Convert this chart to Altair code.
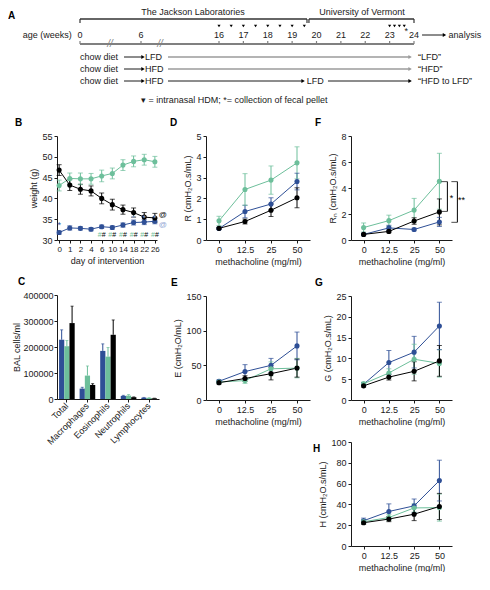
import altair as alt
import pandas as pd

FONT = "Liberation Sans"
INK = "#1a1a1a"
GROUPS = ["LFD", "HFD", "HFD to LFD"]
COLORS = ["#2e4f96", "#6dbf9b", "#000000"]
PALE_BLUE = "#8fa5d3"
GRAY = "#9b9b9b"

# ---------------- Panel A: study design ----------------
lab_names = ["The Jackson Laboratories", "University of Vermont"]
lab_centres = [12.67, 21.87]
lab_starts = [0.0, 19.69]
lab_ends = [19.61, 24.0]
age_ticks = [0, 6, 16, 17, 18, 19, 20, 21, 22, 23, 24]
hdm_weeks = [16, 16.5, 17, 17.5, 18, 18.5, 19, 19.5, 23, 23.2, 23.4, 23.6]
fecal_weeks = [23.68]
break_weeks = [2.95, 8.44]
start_diets = ["LFD", "HFD", "HFD"]
end_labels = ["\u201cLFD\u201d", "\u201cHFD\u201d", "\u201cHFD to LFD\u201d"]
seg_row = [0, 0, 1, 1, 2, 2, 2]
seg_start = [4.33, 9.46, 4.33, 9.46, 4.33, 9.46, 20.47]
seg_end = [6.26, 23.84, 6.26, 23.84, 6.26, 19.45, 23.84]
seg_grey = [False, True, False, True, False, False, False]
switch_label_week = 19.6
analysis_arrow = [24.33, 25.25]
legend_text = "\u25be = intranasal HDM; *= collection of fecal pellet"

# ---------------- Panel B: body weight ----------------
days = ["0", "1", "2", "4", "6", "10", "14", "18", "22", "26"]
w_lfd = [31.8, 32.9, 32.8, 32.6, 33.2, 33.0, 33.6, 34.2, 34.3, 34.5]
w_lfd_err = [0.4, 0.5, 0.4, 0.4, 0.4, 0.4, 0.5, 0.6, 0.6, 0.6]
w_hfd = [43.1, 44.8, 44.7, 44.7, 45.4, 46.0, 48.0, 48.9, 49.3, 48.8]
w_hfd_err = [1.3, 1.3, 1.4, 1.3, 1.4, 1.3, 1.3, 1.3, 1.3, 1.3]
w_h2l = [46.8, 43.2, 42.2, 41.8, 40.0, 38.5, 37.3, 36.6, 35.5, 35.3]
w_h2l_err = [1.3, 1.3, 1.2, 1.2, 1.3, 1.3, 1.1, 1.1, 1.1, 1.1]
b_star_days = ["0"]
b_star_y = [33.5]
b_hash_days = ["6", "10", "14", "18", "22", "26"]
b_hash_y = [31.2] * 6
b_pale_days = ["18", "22", "26"]
b_pale_y = [35.4] * 3
b_at_days = ["26", "26"]
b_at_y = [36.0, 33.7]

# ---------------- Panel C: BAL cells ----------------
cell_types = ["Total", "Macrophages", "Eosinophils", "Neutrophils", "Lymphocytes"]
bal_lfd = [228000, 40000, 185000, 12000, 5000]
bal_lfd_err = [38000, 5000, 27000, 2000, 1000]
bal_hfd = [203000, 90000, 163000, 13000, 4000]
bal_hfd_err = [22000, 37000, 35000, 4000, 1000]
bal_h2l = [292000, 54000, 247000, 7000, 2500]
bal_h2l_err = [65000, 5000, 57000, 1000, 500]

# ---------------- Panels D-H: lung mechanics ----------------
mch = ["0", "12.5", "25", "50"]
r_lfd = [0.55, 1.37, 1.73, 2.81]
r_lfd_err = [0.05, 0.30, 0.30, 0.40]
r_hfd = [0.92, 2.43, 2.88, 3.71]
r_hfd_err = [0.22, 0.76, 0.68, 0.77]
r_h2l = [0.56, 0.89, 1.43, 2.03]
r_h2l_err = [0.05, 0.12, 0.30, 0.48]

e_lfd = [27, 41, 50, 78]
e_lfd_err = [2, 10, 10, 20]
e_hfd = [26, 28, 45, 46]
e_hfd_err = [2, 4, 10, 14]
e_h2l = [25, 31, 38, 46]
e_h2l_err = [2, 4, 9, 13]

rn_lfd = [0.43, 0.93, 0.81, 1.39]
rn_lfd_err = [0.05, 0.20, 0.10, 0.35]
rn_hfd = [0.96, 1.49, 2.30, 4.52]
rn_hfd_err = [0.35, 0.42, 0.90, 2.15]
rn_h2l = [0.43, 0.66, 1.46, 2.16]
rn_h2l_err = [0.05, 0.10, 0.25, 1.00]
rn_sig_top = [4.49, 4.49]
rn_sig_bottom = [2.20, 1.36]
rn_sig_text = ["*", "**"]
rn_sig_mid = [3.25, 3.05]

g_lfd = [3.8, 9.0, 11.5, 17.8]
g_lfd_err = [0.4, 2.9, 3.8, 5.7]
g_hfd = [3.9, 6.5, 9.8, 8.8]
g_hfd_err = [0.4, 1.0, 3.6, 3.3]
g_h2l = [3.4, 5.5, 6.9, 9.4]
g_h2l_err = [0.3, 0.7, 2.3, 3.7]

h_lfd = [24.3, 33.2, 38.6, 62.9]
h_lfd_err = [2.5, 7.3, 6.6, 19.6]
h_hfd = [23.3, 27.4, 36.6, 36.9]
h_hfd_err = [2.0, 3.0, 4.0, 13.0]
h_h2l = [22.4, 25.9, 30.6, 38.0]
h_h2l_err = [1.5, 2.5, 6.2, 12.6]

# ---------------- helpers ----------------
LINE_SYMBOL = "M-1,-0.1H1V0.1H-1Z M0.5,0A0.5,0.5 0 1,1 -0.5,0A0.5,0.5 0 1,1 0.5,0Z"
BAR_SYMBOL = "M-1,-0.55H1V0.55H-1Z"
CSCALE = alt.Scale(domain=GROUPS, range=COLORS)
PANEL_H = 104


def letter(t, dx, dy=0):
    return alt.TitleParams(t, anchor="start", frame="group", dx=dx, dy=dy,
                           fontSize=10, fontWeight="bold", color="#000", offset=4)


def err_df(cats, vals_list, errs_list):
    recs = []
    for g, vals, errs in zip(GROUPS, vals_list, errs_list):
        for c, v, e in zip(cats, vals, errs):
            recs.append({"cat": c, "group": g, "value": v, "lo": v - e, "hi": v + e})
    return pd.DataFrame(recs)


def text_layer(cats, yvals, text, color, dx=0, size=9):
    df = pd.DataFrame({"cat": cats, "yv": yvals, "t": [text] * len(cats)})

    def build(x, y):
        return alt.Chart(df).mark_text(color=color, dx=dx, fontSize=size, baseline="middle").encode(
            x=x, y=y("yv"), text="t:N")
    return build


def line_panel(title, cats, vals, errs, ytitle, ydom, yvals, xtitle, w, h, pad, lx, ly,
               extras=(), xlabel_size=9):
    df = err_df(cats, vals, errs)
    x = alt.X("cat:N", sort=cats, title=xtitle, scale=alt.Scale(type="point", padding=pad),
              axis=alt.Axis(labelAngle=0, labelOverlap=False, labelFontSize=xlabel_size))
    ys = alt.Scale(domain=ydom, nice=False, zero=False)

    def y(f):
        return alt.Y(f"{f}:Q", scale=ys, axis=alt.Axis(values=yvals), title=ytitle)
    c_no = alt.Color("group:N", scale=CSCALE, legend=None)
    c_leg = alt.Color("group:N", scale=CSCALE, legend=alt.Legend(
        orient="none", legendX=lx, legendY=ly, title=None, symbolType=LINE_SYMBOL,
        symbolSize=100, labelFontSize=9, rowPadding=0, labelOffset=3, padding=0))
    base = alt.Chart(df)
    ebar = base.mark_rule(strokeWidth=1).encode(x=x, y=y("lo"), y2="hi:Q", color=c_no)
    cap_hi = base.mark_tick(thickness=1, size=5).encode(x=x, y=y("hi"), color=c_no)
    cap_lo = base.mark_tick(thickness=1, size=5).encode(x=x, y=y("lo"), color=c_no)
    line = base.mark_line(strokeWidth=1).encode(x=x, y=y("value"), color=c_no)
    pts = base.mark_point(filled=True, size=26, opacity=1).encode(x=x, y=y("value"), color=c_leg)
    layers = [ebar, cap_hi, cap_lo, line, pts] + [e(x, y) for e in extras]
    return alt.layer(*layers).properties(width=w, height=h, title=title)


# ---------------- Panel A chart ----------------
A_W, A_H = 360, 96
ROW = {"lab": 3, "bracket": 10, "hdm": 17, "fecal": 22, "age": 26, "axis": 35,
       "diet": [48, 60, 72], "legend": 91}
xs = alt.Scale(domain=[0, 6, 16, 24], range=[23, 84, 162, 357])
ysA = alt.Scale(domain=[0, A_H], range=[0, A_H])
A_LETTER_WEEK = -7.08


def AX(f):
    return alt.X(f"{f}:Q", scale=xs, axis=None)


def AY(f):
    return alt.Y(f"{f}:Q", scale=ysA, axis=None)


centre_txt = pd.DataFrame({
    "t": lab_names + [str(a) for a in age_ticks] + ["*"] * len(fecal_weeks),
    "w": lab_centres + age_ticks + fecal_weeks,
    "y": [ROW["lab"]] * 2 + [ROW["age"]] * len(age_ticks) + [ROW["fecal"]] * len(fecal_weeks),
})
left_txt = pd.DataFrame({
    "t": ["chow diet"] * 3 + start_diets + ["LFD"] + end_labels + ["analysis", legend_text],
    "w": [0] * 3 + [6.51] * 3 + [switch_label_week] + [24.16] * 3 + [analysis_arrow[1] + 0.17, 6.0],
    "y": ROW["diet"] + ROW["diet"] + [ROW["diet"][2]] + ROW["diet"] + [ROW["age"], ROW["legend"]],
})
right_txt = pd.DataFrame({"t": ["age (weeks)"], "w": [-0.8], "y": [ROW["age"]]})
break_txt = pd.DataFrame({"t": ["//"] * len(break_weeks), "w": break_weeks, "y": [ROW["axis"]] * len(break_weeks)})
letter_txt = pd.DataFrame({"t": ["A"], "w": [A_LETTER_WEEK], "y": [ROW["lab"] + 4]})

h_rules = pd.DataFrame({
    "x": lab_starts + [0] + [analysis_arrow[0]] + seg_start,
    "x2": lab_ends + [24] + [analysis_arrow[1]] + seg_end,
    "y": [ROW["bracket"]] * 2 + [ROW["axis"]] + [ROW["age"]] + [ROW["diet"][r] for r in seg_row],
    "c": ["#333333"] * 2 + ["#808080"] + ["#000000"] + [GRAY if g else "#000000" for g in seg_grey],
    "sw": [1.4] * 2 + [2.0] + [0.9] + [1.6 if g else 0.9 for g in seg_grey],
})
v_rules = pd.DataFrame({
    "x": lab_starts + lab_ends + age_ticks,
    "y": [ROW["bracket"]] * 4 + [ROW["axis"] - 3] * len(age_ticks),
    "y2": [ROW["bracket"] + 4] * 4 + [ROW["axis"]] * len(age_ticks),
    "c": ["#333333"] * 4 + ["#808080"] * len(age_ticks),
})
heads = pd.DataFrame({
    "x": seg_end + [analysis_arrow[1]],
    "y": [ROW["diet"][r] for r in seg_row] + [ROW["age"]],
    "c": [GRAY if g else "#000000" for g in seg_grey] + ["#000000"],
})
hdm = pd.DataFrame({"x": hdm_weeks, "y": [ROW["hdm"]] * len(hdm_weeks)})

panel_a = alt.layer(
    alt.Chart(h_rules).mark_rule().encode(x=AX("x"), x2="x2:Q", y=AY("y"),
                                          color=alt.Color("c:N", scale=None),
                                          strokeWidth=alt.StrokeWidth("sw:Q", scale=None)),
    alt.Chart(v_rules).mark_rule(strokeWidth=1.2).encode(x=AX("x"), y=AY("y"), y2="y2:Q",
                                                          color=alt.Color("c:N", scale=None)),
    alt.Chart(heads).mark_point(shape="triangle-right", filled=True, size=16, opacity=1).encode(
        x=AX("x"), y=AY("y"), color=alt.Color("c:N", scale=None)),
    alt.Chart(hdm).mark_point(shape="triangle-down", filled=True, size=10, opacity=1, color="#000").encode(
        x=AX("x"), y=AY("y")),
    alt.Chart(centre_txt).mark_text(fontSize=9, color=INK, baseline="middle").encode(
        x=AX("w"), y=AY("y"), text="t:N"),
    alt.Chart(left_txt).mark_text(fontSize=9, color=INK, align="left", baseline="middle").encode(
        x=AX("w"), y=AY("y"), text="t:N"),
    alt.Chart(right_txt).mark_text(fontSize=9, color=INK, align="right", baseline="middle").encode(
        x=AX("w"), y=AY("y"), text="t:N"),
    alt.Chart(break_txt).mark_text(fontSize=10, color="#808080", baseline="middle", fontStyle="italic").encode(
        x=AX("w"), y=AY("y"), text="t:N"),
    alt.Chart(letter_txt).mark_text(fontSize=10, fontWeight="bold", color="#000", align="left",
                                    baseline="middle").encode(x=AX("w"), y=AY("y"), text="t:N"),
).properties(width=A_W, height=A_H)

# ---------------- Panel B ----------------
panel_b = line_panel(
    letter("B", -42), days, [w_lfd, w_hfd, w_h2l], [w_lfd_err, w_hfd_err, w_h2l_err],
    "weight (g)", [30, 55], [30, 35, 40, 45, 50, 55], "day of intervention", 100, PANEL_H, 0.2, 5, -5,
    xlabel_size=8,
    extras=[
        text_layer(b_star_days, b_star_y, "*", COLORS[0]),
        text_layer(b_hash_days, b_hash_y, "#", COLORS[1], dx=-2, size=7),
        text_layer(b_hash_days, b_hash_y, "#", "#000", dx=2, size=7),
        text_layer(b_pale_days, b_pale_y, "*", PALE_BLUE),
        text_layer(b_at_days[:1], b_at_y[:1], "@", "#000", dx=8, size=8),
        text_layer(b_at_days[1:], b_at_y[1:], "@", PALE_BLUE, dx=8, size=8),
    ])

# ---------------- Panel C ----------------
crecs = []
for g, vals, errs in zip(GROUPS, [bal_lfd, bal_hfd, bal_h2l], [bal_lfd_err, bal_hfd_err, bal_h2l_err]):
    for c, v, e in zip(cell_types, vals, errs):
        crecs.append({"cell": c, "group": g, "value": v, "hi": v + e})
cdf = pd.DataFrame(crecs)
cx = alt.X("cell:N", sort=cell_types, title=None,
           scale=alt.Scale(paddingInner=0.24, paddingOuter=0.1),
           axis=alt.Axis(labelAngle=-45, labelAlign="right", labelBaseline="middle", labelOverlap=False))
cxo = alt.XOffset("group:N", sort=GROUPS, scale=alt.Scale(domain=GROUPS, paddingInner=0, paddingOuter=0))
cys = alt.Scale(domain=[0, 400000], nice=False)


def cy(f):
    return alt.Y(f"{f}:Q", scale=cys,
                 axis=alt.Axis(values=[0, 100000, 200000, 300000, 400000], format="d",
                               labelPadding=1, titlePadding=1),
                 title="BAL cells/ml")


cbase = alt.Chart(cdf)
panel_c = alt.layer(
    cbase.mark_rule(strokeWidth=1).encode(x=cx, xOffset=cxo, y=cy("value"), y2="hi:Q",
                                          color=alt.Color("group:N", scale=CSCALE, legend=None)),
    cbase.mark_tick(thickness=1, size=3).encode(x=cx, xOffset=cxo, y=cy("hi"),
                                                color=alt.Color("group:N", scale=CSCALE, legend=None)),
    cbase.mark_bar().encode(x=cx, xOffset=cxo, y=cy("value"),
                            color=alt.Color("group:N", scale=CSCALE, legend=alt.Legend(
                                orient="none", legendX=43, legendY=-5, title=None, symbolType=BAR_SYMBOL,
                                symbolSize=144, labelFontSize=9, rowPadding=0, labelOffset=3, padding=0))),
).properties(width=102, height=PANEL_H, title=letter("C", -39))

# ---------------- Panels D-H ----------------
panel_d = line_panel(letter("D", -36), mch, [r_lfd, r_hfd, r_h2l], [r_lfd_err, r_hfd_err, r_h2l_err],
                     "R (cmH\u2082O.s/mL)", [0, 5], [0, 1, 2, 3, 4, 5], "methacholine (mg/ml)",
                     104, PANEL_H, 0.5, 8, -2)
panel_e = line_panel(letter("E", -35), mch, [e_lfd, e_hfd, e_h2l], [e_lfd_err, e_hfd_err, e_h2l_err],
                     "E (cmH\u2082O/mL)", [0, 150], [0, 50, 100, 150], "methacholine (mg/ml)",
                     104, PANEL_H, 0.5, 8, -2)


def bracket_layer(i, xoff):
    df = pd.DataFrame({"cat": ["50"], "top": [rn_sig_top[i]], "bot": [rn_sig_bottom[i]],
                       "mid": [rn_sig_mid[i]], "t": [rn_sig_text[i]]})

    def build(x, y):
        return alt.layer(
            alt.Chart(df).mark_rule(strokeWidth=1, color="#000", xOffset=xoff).encode(x=x, y=y("top"), y2="bot:Q"),
            alt.Chart(df).mark_tick(thickness=1, size=6, color="#000", xOffset=xoff - 3).encode(x=x, y=y("top")),
            alt.Chart(df).mark_tick(thickness=1, size=6, color="#000", xOffset=xoff - 3).encode(x=x, y=y("bot")),
            alt.Chart(df).mark_text(fontSize=9, color="#000", dx=xoff + 4, baseline="middle").encode(
                x=x, y=y("mid"), text="t:N"),
        )
    return build


COL3_W = 101
panel_f = line_panel(letter("F", -36), mch, [rn_lfd, rn_hfd, rn_h2l], [rn_lfd_err, rn_hfd_err, rn_h2l_err],
                     "R\u2099 (cmH\u2082O.s/mL)", [0, 8], [0, 2, 4, 6, 8], "methacholine (mg/ml)",
                     COL3_W, PANEL_H, 0.5, 8, -2, extras=[bracket_layer(0, 8), bracket_layer(1, 18)])
panel_g = line_panel(letter("G", -36), mch, [g_lfd, g_hfd, g_h2l], [g_lfd_err, g_hfd_err, g_h2l_err],
                     "G (cmH\u2082O.s/mL)", [0, 25], [0, 5, 10, 15, 20, 25], "methacholine (mg/ml)",
                     COL3_W, PANEL_H, 0.5, 8, -2)
panel_h = line_panel(letter("H", -38, 20), mch, [h_lfd, h_hfd, h_h2l], [h_lfd_err, h_hfd_err, h_h2l_err],
                     "H (cmH\u2082O.s/mL)", [0, 100], [0, 20, 40, 60, 80, 100], "methacholine (mg/ml)",
                     COL3_W, PANEL_H, 0.5, 8, -2)

col1 = alt.vconcat(panel_b, panel_c, spacing=12)
col2 = alt.vconcat(panel_d, panel_e, spacing=12)
col3 = alt.vconcat(panel_f, panel_g, panel_h, spacing=12)
bottom = alt.hconcat(col1, col2, col3, spacing=3)

chart = alt.vconcat(panel_a, bottom, spacing=13).properties(padding=0).configure(
    font=FONT
).configure_view(stroke=None).configure_axis(
    labelFontSize=9, titleFontSize=9, titleFontWeight="normal", labelColor=INK, titleColor=INK,
    domainColor=INK, tickColor=INK, tickSize=3, grid=False, labelPadding=2, titlePadding=3
).configure_legend(labelColor=INK)

chart.save("out.html", embed_options={"renderer": "svg", "actions": False})
